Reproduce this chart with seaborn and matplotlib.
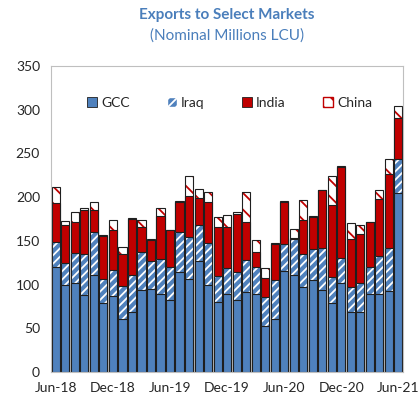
import matplotlib
matplotlib.use("Agg")
import matplotlib.pyplot as plt
from matplotlib.patches import Patch
import seaborn as sns
import pandas as pd

months = ["Jun-18", "Jul-18", "Aug-18", "Sep-18", "Oct-18", "Nov-18", "Dec-18",
          "Jan-19", "Feb-19", "Mar-19", "Apr-19", "May-19", "Jun-19", "Jul-19",
          "Aug-19", "Sep-19", "Oct-19", "Nov-19", "Dec-19", "Jan-20", "Feb-20",
          "Mar-20", "Apr-20", "May-20", "Jun-20", "Jul-20", "Aug-20", "Sep-20",
          "Oct-20", "Nov-20", "Dec-20", "Jan-21", "Feb-21", "Mar-21", "Apr-21",
          "May-21", "Jun-21"]
gcc = [119.7, 99.5, 101.8, 88.1, 110.9, 78.9, 86.5, 60.6, 68.6, 93.8, 94.9, 89.6,
       82.7, 114.8, 106.8, 127.0, 99.5, 80.1, 89.6, 82.0, 91.5, 89.6, 52.2, 60.6,
       115.1, 111.3, 96.8, 105.6, 94.2, 78.9, 101.8, 68.6, 68.6, 89.6, 89.6, 92.3, 204.4]
iraq = [28.6, 25.2, 33.9, 46.5, 49.2, 27.1, 29.8, 37.8, 42.7, 43.5, 32.1, 39.7,
        37.4, 45.7, 47.2, 41.2, 48.4, 29.3, 29.4, 32.4, 36.2, 30.5, 33.2, 44.2,
        31.7, 41.2, 38.2, 35.1, 47.6, 29.8, 28.6, 28.6, 33.2, 30.5, 42.7, 49.5, 39.7]
india = [45.0, 43.5, 35.9, 50.3, 24.8, 49.2, 46.5, 36.2, 64.1, 28.2, 24.4, 49.5,
         41.9, 33.6, 46.9, 30.5, 46.6, 56.5, 46.9, 66.7, 44.3, 17.5, 21.7, 41.2,
         47.3, 1.0, 39.3, 36.6, 66.0, 82.7, 104.1, 55.3, 56.4, 51.1, 66.0, 85.1, 46.5]
china = [18.3, 4.5, 11.4, 2.7, 9.6, 1.1, 11.1, 8.4, 0.8, 8.4, 0.7, 8.4,
         0.5, 1.1, 22.9, 10.6, 11.0, 11.0, 13.7, 1.9, 34.3, 13.8, 11.9, 1.6,
         1.1, 10.5, 22.1, 0.8, 0.8, 32.4, 1.2, 17.9, 10.0, 0.8, 9.9, 16.8, 13.3]
tick_labels = ["Jun-18", "Dec-18", "Jun-19", "Dec-19", "Jun-20", "Dec-20", "Jun-21"]

BLUE = "#4f81bd"
RED = "#c00000"
TITLE_COLOR = "#4a7ebb"
EDGE = "#1f1f1f"

sns.set_style("white")
plt.rcParams["font.family"] = ["Lato", "DejaVu Sans"]
plt.rcParams["hatch.linewidth"] = 1.3

df = pd.DataFrame({"month": months, "GCC": gcc, "Iraq": iraq,
                   "India": india, "China": china})
# cumulative totals, drawn from the top layer down so each covers the one above
df["to_gcc"] = df["GCC"]
df["to_iraq"] = df["to_gcc"] + df["Iraq"]
df["to_india"] = df["to_iraq"] + df["India"]
df["to_china"] = df["to_india"] + df["China"]

fig = plt.figure(figsize=(4.19, 4.03), dpi=100)
ax = fig.add_axes([0.122, 0.077, 0.840, 0.759])

# (column, face colour, hatch colour, hatch)
layers = [
    ("to_china", "white", RED, "\\\\"),
    ("to_india", RED, None, None),
    ("to_iraq", BLUE, "white", "////"),
    ("to_gcc", BLUE, None, None),
]
for col, face, hatch_col, hatch in layers:
    if hatch:
        sns.barplot(data=df, x="month", y=col, color=face, edgecolor=hatch_col,
                    hatch=hatch, linewidth=0, saturation=1, width=0.85,
                    errorbar=None, ax=ax)
        sns.barplot(data=df, x="month", y=col, color=EDGE, fill=False,
                    linewidth=0.8, width=0.85, errorbar=None, ax=ax)
    else:
        sns.barplot(data=df, x="month", y=col, color=face, edgecolor=EDGE,
                    linewidth=0.8, saturation=1, width=0.85, errorbar=None, ax=ax)

ax.set_xlim(-0.5, len(months) - 0.5)
ax.set_ylim(0, 350)
ax.set_yticks(range(0, 351, 50))
ax.set_xticks([months.index(t) for t in tick_labels])
ax.set_xticklabels(tick_labels)
ax.set_xticks([months.index(t) - 0.5 for t in tick_labels[1:]], minor=True)
ax.set_xlabel("")
ax.set_ylabel("")
ax.tick_params(axis="x", which="major", length=0, pad=7, labelsize=10, labelcolor="#262626")
ax.tick_params(axis="x", which="minor", direction="in", length=3, color="#bfbfbf")
ax.tick_params(axis="y", direction="in", length=3, color="#bfbfbf", pad=8,
               labelsize=10, labelcolor="#262626")
for side in ["left", "right", "top", "bottom"]:
    ax.spines[side].set_visible(True)
    ax.spines[side].set_color("#bfbfbf")
    ax.spines[side].set_linewidth(0.8)

handles = [
    Patch(facecolor=BLUE, edgecolor=EDGE, linewidth=0.6, label="GCC"),
    Patch(facecolor=BLUE, edgecolor="white", hatch="////", label="Iraq"),
    Patch(facecolor=RED, edgecolor=EDGE, linewidth=0.6, label="India"),
    Patch(facecolor="white", edgecolor=RED, hatch="\\\\", label="China"),
]
ax.legend(handles=handles, loc="center", bbox_to_anchor=(0.507, 0.879), ncol=4,
          frameon=False, fontsize=10, handlelength=0.7, handleheight=0.7,
          handletextpad=0.3, columnspacing=2.7)

fig.text(0.542, 0.963, "Exports to Select Markets", ha="center", va="center",
         fontsize=11, fontweight="bold", color=TITLE_COLOR)
fig.text(0.542, 0.911, "(Nominal Millions LCU)", ha="center", va="center",
         fontsize=11, color=TITLE_COLOR)

fig.savefig("out.png", dpi=100)
